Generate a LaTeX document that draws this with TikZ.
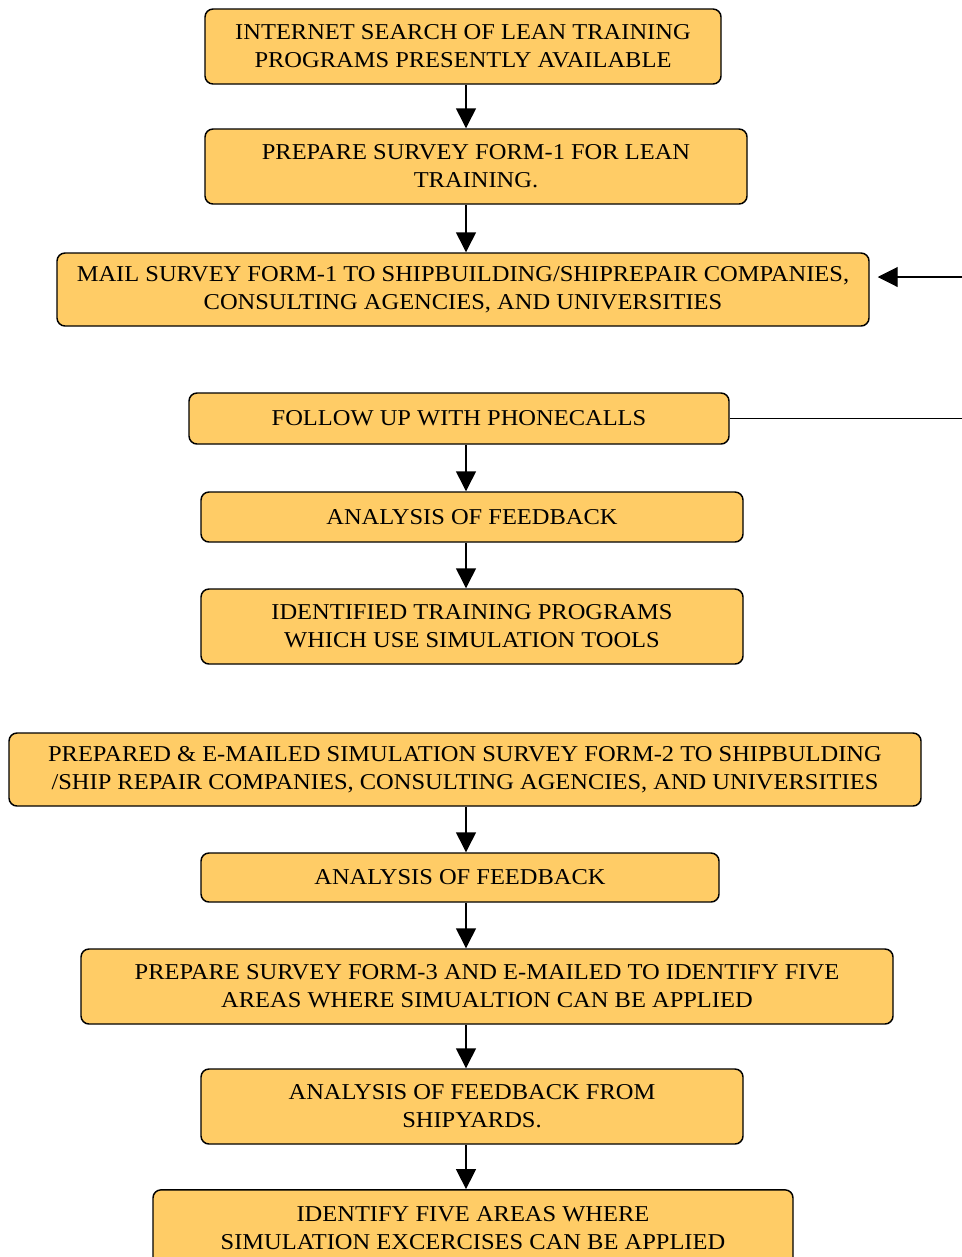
\documentclass[tikz,border=0pt]{standalone}
\usepackage{fontspec}
\setmainfont{Liberation Serif}[FakeStretch=1.08]
\usepackage{tikz}
\usetikzlibrary{arrows.meta,positioning,calc}
\definecolor{bfill}{HTML}{FFCC66}
\tikzset{
  blk/.style={draw=black,fill=bfill,line width=1.1pt,rounded corners=6pt,align=center,
              font=\fontsize{17}{21}\selectfont,inner sep=2pt},
  arr/.style={-{Triangle[length=15pt,width=15pt]},line width=1.1pt,black},
  fbk/.style={line width=0.8pt,black},
}
\begin{document}
\begin{tikzpicture}[x=0.75pt,y=-0.75pt]
\useasboundingbox (0,0) rectangle (961,1257);
\coordinate (spine) at (466,0);
% first survey round
\node[blk,minimum width=387pt,minimum height=56.25pt] (search) at (463,46.5)
  {INTERNET SEARCH OF LEAN TRAINING\\PROGRAMS PRESENTLY AVAILABLE};
\node[blk,minimum width=406.5pt,minimum height=56.25pt] (form1) at (476,166.5)
  {PREPARE SURVEY FORM-1 FOR LEAN\\TRAINING.};
\node[blk,minimum width=609pt,minimum height=54.75pt] (mail) at (463,289.5)
  {MAIL SURVEY FORM-1 TO SHIPBUILDING/SHIPREPAIR COMPANIES,\\CONSULTING AGENCIES, AND UNIVERSITIES};
\node[blk,minimum width=405pt,minimum height=38.25pt] (phone) at (459,418.5)
  {FOLLOW UP WITH PHONECALLS};
\node[blk,minimum width=406.5pt,minimum height=37.5pt] (fb1) at (472,517)
  {ANALYSIS OF FEEDBACK};
\node[blk,minimum width=406.5pt,minimum height=56.25pt] (simprog) at (472,626.5)
  {IDENTIFIED TRAINING PROGRAMS\\WHICH USE SIMULATION TOOLS};
% second and third forms
\node[blk,minimum width=684pt,minimum height=54.75pt] (form2) at (465,769.5)
  {PREPARED \& E-MAILED SIMULATION SURVEY FORM-2 TO SHIPBULDING\\/SHIP REPAIR COMPANIES, CONSULTING AGENCIES, AND UNIVERSITIES};
\node[blk,minimum width=388.5pt,minimum height=36.75pt] (fb2) at (460,877.5)
  {ANALYSIS OF FEEDBACK};
\node[blk,minimum width=609pt,minimum height=56.25pt] (form3) at (487,986.5)
  {PREPARE SURVEY FORM-3 AND E-MAILED TO IDENTIFY FIVE\\AREAS WHERE SIMUALTION CAN BE APPLIED};
\node[blk,minimum width=406.5pt,minimum height=56.25pt] (fb3) at (472,1106.5)
  {ANALYSIS OF FEEDBACK FROM\\SHIPYARDS.};
\node[blk,minimum width=480pt,minimum height=58pt] (areas) at (473,1228.5)
  {IDENTIFY FIVE AREAS WHERE\\SIMULATION EXCERCISES CAN BE APPLIED};
% flow
\foreach \a/\b in {search/form1,form1/mail,phone/fb1,fb1/simprog,form2/fb2,fb2/form3,form3/fb3,fb3/areas}
  \draw[arr] (\a.south -| spine) -- (\b.north -| spine);
% loop back to the mailing
\coordinate (back) at (975,0);
\draw[fbk] (phone.east) -- (phone.east -| back);
\draw[arr,line width=0.8pt,shorten >=6pt] (back |- 0,277) -- (mail.east |- 0,277);
\end{tikzpicture}
\end{document}
